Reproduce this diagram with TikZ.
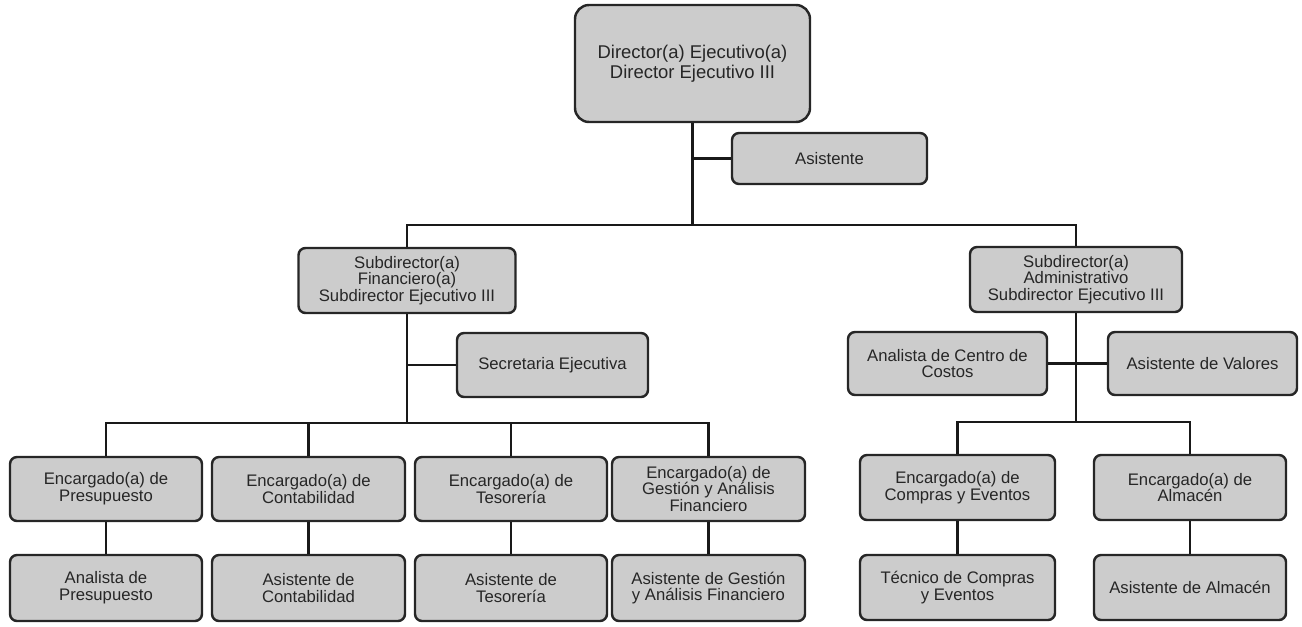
\documentclass[tikz,border=0pt]{standalone}
\usepackage{fontspec}
\setmainfont{Liberation Sans}
\begin{document}
\begin{tikzpicture}[
  cargo/.style={draw=black!85, line width=1.4pt, fill=black!20, rounded corners=4pt,
    align=center, inner sep=1pt, text=black!85, font=\fontsize{9.5}{9.5}\selectfont},
  link/.style={line width=1.4pt, black!90}
]
  \useasboundingbox (0,0) rectangle (26.04,-12.52);
  % direccion
  \node[cargo, rounded corners=8pt, minimum width=4.7cm, minimum height=2.34cm,
    font=\fontsize{10.5}{11.5}\selectfont] (dir) at (13.85,-1.27)
    {Director(a) Ejecutivo(a)\\Director Ejecutivo III};
  \node[cargo, minimum width=3.9cm, minimum height=1.02cm] (asis) at (16.59,-3.17) {Asistente};
  % subdirecciones
  \node[cargo, minimum width=4.34cm, minimum height=1.3cm] (sf) at (8.14,-5.61)
    {Subdirector(a)\\Financiero(a)\\Subdirector Ejecutivo III};
  \node[cargo, minimum width=3.82cm, minimum height=1.28cm] (sec) at (11.05,-7.3) {Secretaria Ejecutiva};
  \node[cargo, minimum width=4.24cm, minimum height=1.3cm] (sa) at (21.52,-5.59)
    {Subdirector(a)\\Administrativo\\Subdirector Ejecutivo III};
  \node[cargo, minimum width=3.98cm, minimum height=1.26cm] (acc) at (18.95,-7.27)
    {Analista de Centro de\\Costos};
  \node[cargo, minimum width=3.78cm, minimum height=1.26cm] (aval) at (24.05,-7.27) {Asistente de Valores};
  % encargados
  \node[cargo, minimum width=3.84cm, minimum height=1.28cm] (pre) at (2.12,-9.78) {Encargado(a) de\\Presupuesto};
  \node[cargo, minimum width=3.86cm, minimum height=1.28cm] (con) at (6.17,-9.78) {Encargado(a) de\\Contabilidad};
  \node[cargo, minimum width=3.84cm, minimum height=1.28cm] (tes) at (10.22,-9.78) {Encargado(a) de\\Tesorería};
  \node[cargo, minimum width=3.86cm, minimum height=1.28cm] (ges) at (14.17,-9.78)
    {Encargado(a) de\\Gestión y Análisis\\Financiero};
  \node[cargo, minimum width=3.9cm, minimum height=1.3cm] (com) at (19.15,-9.75) {Encargado(a) de\\Compras y Eventos};
  \node[cargo, minimum width=3.84cm, minimum height=1.3cm] (alm) at (23.8,-9.75) {Encargado(a) de\\Almacén};
  % asistentes
  \node[cargo, minimum width=3.84cm, minimum height=1.32cm] (apre) at (2.12,-11.76) {Analista de\\Presupuesto};
  \node[cargo, minimum width=3.86cm, minimum height=1.32cm] (acon) at (6.17,-11.76) {Asistente de\\Contabilidad};
  \node[cargo, minimum width=3.84cm, minimum height=1.32cm] (ates) at (10.22,-11.76) {Asistente de\\Tesorería};
  \node[cargo, minimum width=3.86cm, minimum height=1.32cm] (ages) at (14.17,-11.76)
    {Asistente de Gestión\\y Análisis Financiero};
  \node[cargo, minimum width=3.9cm, minimum height=1.3cm] (tcom) at (19.15,-11.75) {Técnico de Compras\\y Eventos};
  \node[cargo, minimum width=3.84cm, minimum height=1.3cm] (aalm) at (23.8,-11.75) {Asistente de Almacén};
  % uniones
  \coordinate (j0) at (0,-4.5);
  \coordinate (j2) at (0,-8.46);
  \coordinate (j3) at (0,-8.44);
  \draw[link] (dir) -- (dir |- j0);
  \draw[link] (dir |- asis) -- (asis.west);
  \draw[link] (sf.north) |- (sa.north |- j0) -- (sa.north);
  \draw[link] (sf) -- (sf |- j2);
  \draw[link] (sf |- sec) -- (sec.west);
  \draw[link] (pre.north) |- (ges.north |- j2) -- (ges.north);
  \draw[link] (con.north) -- (con.north |- j2);
  \draw[link] (tes.north) -- (tes.north |- j2);
  \draw[link] (sa) -- (sa |- j3);
  \draw[link] (acc.east) -- (aval.west);
  \draw[link] (com.north) |- (alm.north |- j3) -- (alm.north);
  \draw[link] (pre) -- (apre);
  \draw[link] (con) -- (acon);
  \draw[link] (tes) -- (ates);
  \draw[link] (ges) -- (ages);
  \draw[link] (com) -- (tcom);
  \draw[link] (alm) -- (aalm);
\end{tikzpicture}
\end{document}
